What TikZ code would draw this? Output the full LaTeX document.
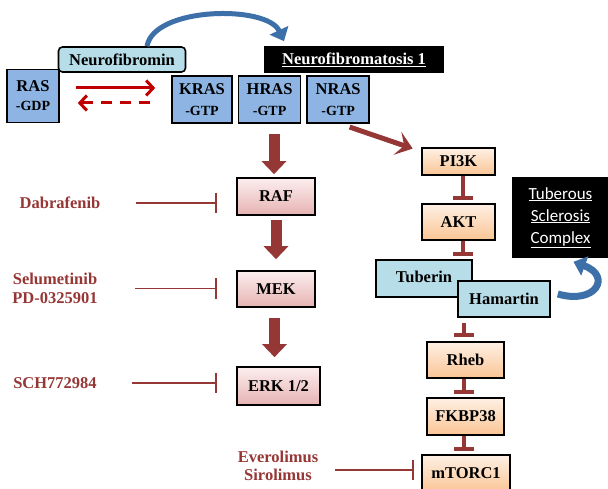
\documentclass[tikz,border=0pt]{standalone}
\usepackage{fontspec}
\setmainfont{Liberation Serif}
\newfontfamily\tscfont{Carlito}
\usetikzlibrary{arrows.meta,positioning}
\definecolor{rasblue}{HTML}{8DB4E2}
\definecolor{paleblue}{HTML}{B7DEE8}
\definecolor{pinktop}{HTML}{FCEEEE}
\definecolor{pinkbot}{HTML}{E6B3B2}
\definecolor{peachtop}{HTML}{FEF0E4}
\definecolor{peachbot}{HTML}{FAC595}
\definecolor{drugred}{HTML}{953735}
\definecolor{brightred}{HTML}{C00000}
\definecolor{curlblue}{HTML}{3D6FA8}
\newcommand{\gtpsize}{\fontsize{14}{16}\selectfont}

\begin{document}
\begin{tikzpicture}[x=1pt,y=1pt,>=stealth,
  box/.style={draw,line width=1.6pt,inner sep=0pt,align=center,font=\bfseries\fontsize{16.5}{18}\selectfont},
  ras node/.style={box,fill=rasblue,minimum height=47pt},
  pink node/.style={box,top color=pinktop,bottom color=pinkbot,minimum width=78pt,minimum height=37pt},
  peach node/.style={box,top color=peachtop,bottom color=peachbot,minimum width=77pt,minimum height=36pt},
  cyan node/.style={box,fill=paleblue,minimum height=36pt},
  drug/.style={text=drugred,align=center,font=\bfseries\fontsize{16.5}{19}\selectfont},
  bigarrow/.style={-{Triangle[length=13pt,width=24pt]},line width=11pt,drugred},
  blocker/.style={-{Bar[width=20pt,line width=2pt]},line width=1.6pt,drugred},
  stopper/.style={-{Bar[width=20pt,line width=4pt]},line width=4pt,drugred},
  switch/.style={-{Straight Barb[length=7pt,width=15pt,line width=3pt]},line width=3pt,brightred},
  curl/.style={-{Triangle[length=12pt,width=20pt]},line width=5pt,curlblue}]

  \useasboundingbox (0,0) rectangle (608,488);

  % Ras switch
  \node[ras node,minimum width=52pt,minimum height=53pt] (rasgdp) at (33,392) {RAS\\[1pt]{\gtpsize -GDP}};
  \node[ras node,minimum width=60pt] (kras) at (202,388.5) {KRAS\\[3pt]{\gtpsize -GTP}};
  \node[ras node,minimum width=62pt,right=5pt of kras] (hras) {HRAS\\[3pt]{\gtpsize -GTP}};
  \node[ras node,minimum width=62pt,right=5pt of hras] (nras) {NRAS\\[3pt]{\gtpsize -GTP}};
  \node[box,fill=paleblue,rounded corners=4pt,minimum width=127pt,minimum height=25pt] (nfmin) at (122,428.5) {Neurofibromin};
  \node[box,fill=black,text=white,draw=black,minimum width=178pt,minimum height=25pt] (nf1) at (354,428.5) {\underline{Neurofibromatosis 1}};

  \draw[switch,shorten <=16pt,shorten >=16pt] ([yshift=8]rasgdp.east) -- ([yshift=11.5]kras.west);
  \draw[switch,dash pattern=on 11pt off 8pt,shorten <=21pt,shorten >=18pt] ([yshift=-3.5]kras.west) -- ([yshift=-7]rasgdp.east);
  \draw[curl] ([xshift=25]nfmin.north) to[out=80,in=115,looseness=0.75] ([xshift=-70,yshift=5]nf1.north);

  % MAPK branch
  \node[pink node] (raf) at (276,291.5) {RAF};
  \node[pink node,minimum height=36pt] (mek) at (276,199) {MEK};
  \node[pink node,minimum width=83pt,minimum height=38pt] (erk) at (278.5,102) {ERK 1/2};

  \draw[bigarrow,shorten <=10pt,shorten >=3pt] ([xshift=-2]raf.north |- hras.south) -- ([xshift=-2]raf.north);
  \draw[bigarrow,shorten <=4pt,shorten >=11pt] (raf.south) -- (mek.north);
  \draw[bigarrow,shorten <=10pt,shorten >=9pt] ([xshift=-1.5]mek.south) -- ([xshift=-1.5]mek.south |- erk.north);

  \node[drug] (dabra) at (60,285) {Dabrafenib};
  \node[drug] (selu) at (55,199.5) {Selumetinib\\PD-0325901};
  \node[drug] (sch) at (55,105) {SCH772984};
  \node[drug,font=\bfseries\fontsize{16.5}{18}\selectfont] (evero) at (278,22) {Everolimus\\Sirolimus};

  \draw[blocker,shorten <=32pt,shorten >=19pt] (dabra.east) -- (raf.west |- dabra.east);
  \draw[blocker,shorten <=34pt,shorten >=19pt] (selu.east) -- (mek.west |- selu.east);
  \draw[blocker,shorten <=32pt,shorten >=19pt] (sch.east) -- (erk.west |- sch.east);

  % PI3K branch
  \node[peach node,minimum width=73pt,minimum height=27pt] (pi3k) at (458.5,326.5) {PI3K};
  \node[peach node,minimum width=73pt] (akt) at (458.5,266) {AKT};
  \node[cyan node,minimum width=96pt,minimum height=37pt] (tuberin) at (424,209.5) {\raisebox{3pt}{Tuberin}};
  \node[cyan node,minimum width=92pt] (hamartin) at (504,189) {\raisebox{-3pt}{Hamartin}};
  \node[peach node] (rheb) at (465.5,128) {Rheb};
  \node[peach node,minimum height=37pt] (fkbp) at (465.5,71.5) {FKBP38};
  \node[peach node,minimum width=88pt,minimum height=37pt] (mtorc) at (466,14.5) {mTORC1};
  \node[box,fill=black,text=white,minimum width=95pt,minimum height=79pt,font=\tscfont\fontsize{17}{22}\selectfont] (tsc) at (560.5,270.5)
    {\underline{Tuberous}\\\underline{Sclerosis}\\\underline{Complex}};

  \draw[blocker,shorten <=13pt,shorten >=7pt] ([yshift=-4]evero.east) -- ([yshift=-4]evero.east -| mtorc.west);

  \draw[-{Stealth[length=16pt,width=24pt,inset=7pt]},line width=5pt,drugred,shorten <=10pt,shorten >=9pt]
    ([xshift=2]nras.south) -- ([yshift=10]pi3k.west);

  \draw[stopper,shorten >=3pt] ([xshift=4]pi3k.south) -- ([xshift=4]akt.north);
  \draw[stopper,shorten >=3pt] ([xshift=4]akt.south) -- ([xshift=4]akt.south |- tuberin.north);
  \draw[stopper,shorten <=5pt,shorten >=4pt] ([xshift=-2]rheb.north |- hamartin.south) -- ([xshift=-2]rheb.north);
  \draw[stopper,shorten >=3pt] ([xshift=-2]rheb.south) -- ([xshift=-2]fkbp.north);
  \draw[stopper,shorten >=3pt] ([xshift=-2]fkbp.south) -- ([xshift=-2.5]mtorc.north);

  \draw[curl,line width=7pt] ([xshift=7,yshift=5]hamartin.east) .. controls (596,183) and (612,212) .. ([xshift=13,yshift=-4]tsc.south);

\end{tikzpicture}
\end{document}
